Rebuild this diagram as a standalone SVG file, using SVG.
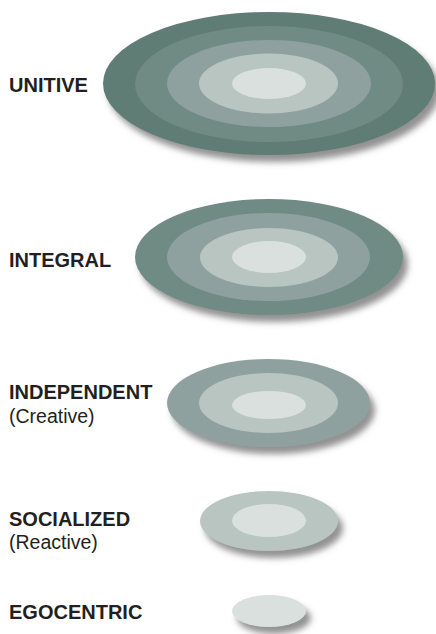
<svg xmlns="http://www.w3.org/2000/svg" width="436" height="634" viewBox="0 0 436 634">
  <defs>
    <filter id="shadow" x="-10%" y="-20%" width="125%" height="150%">
      <feGaussianBlur in="SourceAlpha" stdDeviation="3"/>
      <feOffset dx="5" dy="7" result="b"/>
      <feFlood flood-color="#6e6e6e" flood-opacity="0.75"/>
      <feComposite in2="b" operator="in"/>
      <feMerge>
        <feMergeNode/>
        <feMergeNode in="SourceGraphic"/>
      </feMerge>
    </filter>
  </defs>
  <style>
    .l5 { fill: #5f7c74; }
    .l4 { fill: #708a84; }
    .l3 { fill: #8fa19e; }
    .l2 { fill: #b9c5c1; }
    .l1 { fill: #d9e0de; }
    .outer { filter: url(#shadow); }
    .title { font-family: "Liberation Sans", Arial, sans-serif; font-weight: bold; font-size: 20px; fill: #231f20; }
    .sub { font-family: "Liberation Sans", Arial, sans-serif; font-size: 19.5px; fill: #231f20; }
  </style>

  <g id="unitive">
    <ellipse class="l5 outer" cx="269" cy="83.5" rx="166" ry="71.5"/>
    <ellipse class="l4" cx="269" cy="84" rx="134" ry="58"/>
    <ellipse class="l3" cx="269" cy="83.5" rx="102" ry="43.5"/>
    <ellipse class="l2" cx="268.5" cy="83.5" rx="69.5" ry="30"/>
    <ellipse class="l1" cx="269" cy="83.5" rx="37" ry="15.5"/>
    <text class="title" x="9" y="92">UNITIVE</text>
  </g>

  <g id="integral">
    <ellipse class="l4 outer" cx="269" cy="257" rx="134" ry="58"/>
    <ellipse class="l3" cx="268.5" cy="257" rx="101.5" ry="44"/>
    <ellipse class="l2" cx="269" cy="257.5" rx="69" ry="29.5"/>
    <ellipse class="l1" cx="269" cy="257" rx="37" ry="16"/>
    <text class="title" x="9" y="267">INTEGRAL</text>
  </g>

  <g id="independent">
    <ellipse class="l3 outer" cx="268.5" cy="403" rx="101.5" ry="44"/>
    <ellipse class="l2" cx="268.5" cy="403" rx="69.5" ry="30"/>
    <ellipse class="l1" cx="269" cy="405" rx="37" ry="14"/>
    <text class="title" x="9" y="399">INDEPENDENT</text>
    <text class="sub" x="9" y="423">(Creative)</text>
  </g>

  <g id="socialized">
    <ellipse class="l2 outer" cx="269" cy="521" rx="69" ry="30"/>
    <ellipse class="l1" cx="269" cy="520.5" rx="37" ry="16.5"/>
    <text class="title" x="9" y="525.5">SOCIALIZED</text>
    <text class="sub" x="9" y="548.5">(Reactive)</text>
  </g>

  <g id="egocentric">
    <ellipse class="l1 outer" cx="269" cy="611" rx="37" ry="16"/>
    <text class="title" x="9" y="618.5">EGOCENTRIC</text>
  </g>

  <g id="connectors"/>
</svg>
